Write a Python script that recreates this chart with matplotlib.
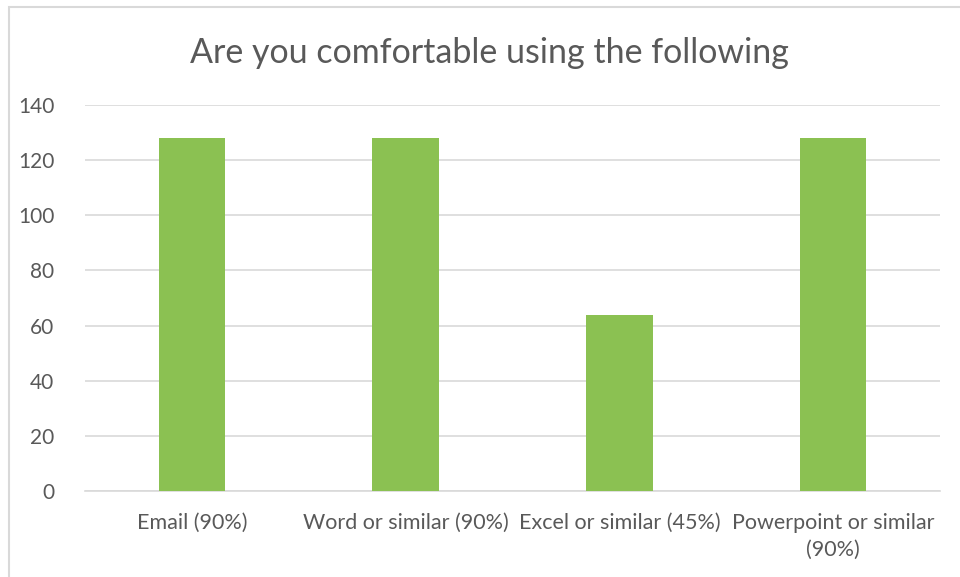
import matplotlib.pyplot as plt
from matplotlib.patches import Rectangle

# ----- data -----
categories = ['Email (90%)', 'Word or similar (90%)', 'Excel or similar (45%)',
              'Powerpoint or similar\n(90%)']
counts = [128, 128, 64, 128]
yticks = [0, 20, 40, 60, 80, 100, 120, 140]

plt.rcParams['font.family'] = ['Lato', 'DejaVu Sans']

fig = plt.figure(figsize=(9.6, 5.77), dpi=100)
ax = fig.add_axes([85/960, 1 - 491/577, 855/960, 386/577])

# chart frame (only top and left edges are visible in the original)
fig.patches.append(Rectangle((9/960, -0.1), 1.2, 1 - 7/577 + 0.1,
                             transform=fig.transFigure, fill=False,
                             edgecolor='#d9d9d9', linewidth=1.5))

x = range(len(categories))
ax.bar(x, counts, width=0.31, color='#8bc152', zorder=3)

ax.set_xlim(-0.5, len(categories) - 0.5)
ax.set_ylim(0, 140)
ax.set_yticks(yticks)
ax.set_xticks(list(x))
ax.set_xticklabels(categories, fontsize=15.5, color='#595959', linespacing=1.4)
ax.tick_params(axis='y', labelsize=15, colors='#595959', length=0, pad=22)
ax.tick_params(axis='x', length=0, pad=16)

ax.grid(axis='y', color='#d9d9d9', linewidth=1.2, zorder=0)
for s in ['top', 'right', 'left']:
    ax.spines[s].set_visible(False)
ax.spines['bottom'].set_color('#d9d9d9')
ax.spines['bottom'].set_linewidth(1.2)

fig.text(489/960, 1 - 53/577, 'Are you comfortable using the following',
         ha='center', va='center', fontsize=24.5, color='#595959')

fig.savefig('out.png', dpi=100)
